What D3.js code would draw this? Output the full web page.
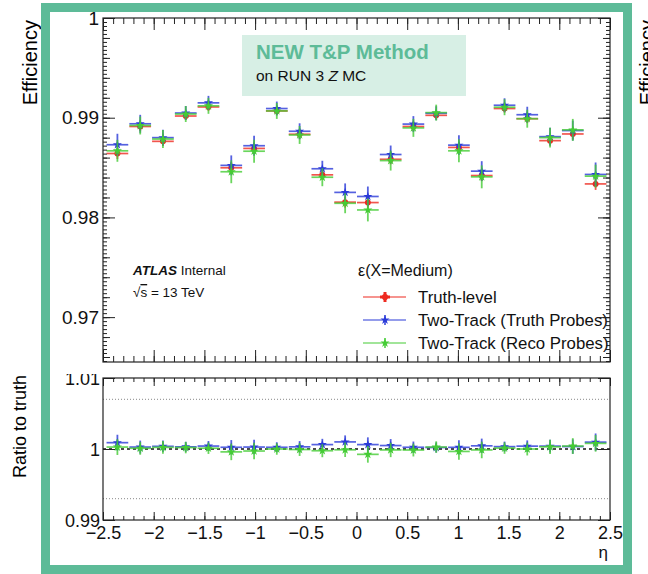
<!DOCTYPE html>
<html>
<head>
<meta charset="utf-8">
<script src="https://cdn.jsdelivr.net/npm/d3@7/dist/d3.min.js"></script>
<style>
  html, body { margin: 0; padding: 0; background: #fff; }
  svg { display: block; font-family: "Liberation Sans", Arial, Helvetica, sans-serif; }
</style>
</head>
<body>
<svg id="chart" width="648" height="574"></svg>
<script>
// Eta bin centres (22 equal bins across |eta| < 2.47) and half bin width
const etaCenters = [-2.358, -2.133, -1.909, -1.684, -1.460, -1.235, -1.010, -0.786, -0.561, -0.337, -0.112,
                     0.112,  0.337,  0.561,  0.786,  1.010,  1.235,  1.460,  1.684,  1.909,  2.133,  2.358];
const etaHalfWidth = 0.112;

// Medium-ID efficiency per eta bin
const truthLevel = [0.98641, 0.98912, 0.98763, 0.99017, 0.99108, 0.98498, 0.98692, 0.99068, 0.98834, 0.98427, 0.98153,
                    0.98149, 0.98583, 0.98912, 0.99024, 0.98702, 0.98420, 0.99092, 0.98990, 0.98770, 0.98837, 0.98336];
const truthErr   = [0.00055, 0.00045, 0.00045, 0.00040, 0.00040, 0.00055, 0.00055, 0.00040, 0.00045, 0.00050, 0.00055,
                    0.00055, 0.00050, 0.00045, 0.00040, 0.00055, 0.00055, 0.00040, 0.00045, 0.00045, 0.00055, 0.00060];

const twoTrackTruth = [0.98729, 0.98939, 0.98800, 0.99047, 0.99149, 0.98522, 0.98719, 0.99092, 0.98864, 0.98488, 0.98251,
                       0.98210, 0.98631, 0.98936, 0.99045, 0.98725, 0.98464, 0.99125, 0.99030, 0.98810, 0.98871, 0.98431];
const twoTrackTruthErr = [0.00110, 0.00090, 0.00080, 0.00070, 0.00070, 0.00100, 0.00100, 0.00070, 0.00080, 0.00080, 0.00090,
                          0.00100, 0.00090, 0.00080, 0.00070, 0.00100, 0.00100, 0.00070, 0.00080, 0.00090, 0.00100, 0.00120];

const twoTrackReco = [0.98668, 0.98922, 0.98786, 0.99037, 0.99119, 0.98458, 0.98664, 0.99068, 0.98827, 0.98403, 0.98142,
                      0.98075, 0.98570, 0.98898, 0.99051, 0.98668, 0.98407, 0.99105, 0.98990, 0.98800, 0.98878, 0.98414];
const twoTrackRecoErr = [0.00110, 0.00090, 0.00090, 0.00080, 0.00080, 0.00115, 0.00115, 0.00080, 0.00090, 0.00090, 0.00100,
                         0.00115, 0.00100, 0.00090, 0.00080, 0.00115, 0.00115, 0.00080, 0.00090, 0.00100, 0.00110, 0.00115];

// Axis ticks and labels
const xMajorTicks = [-2.5, -2, -1.5, -1, -0.5, 0, 0.5, 1, 1.5, 2, 2.5];
const xTickLabels = ["\u22122.5", "\u22122", "\u22121.5", "\u22121", "\u22120.5", "0", "0.5", "1", "1.5", "2", "2.5"];
const effMajorTicks = [0.97, 0.98, 0.99, 1.0];
const effTickLabels = ["0.97", "0.98", "0.99", "1"];
const ratioMajorTicks = [0.99, 1.0, 1.01];
const ratioTickLabels = ["0.99", "1", "1.01"];
const ratioBands = [0.993, 1.007];

const legendHeader = "\u03b5(X=Medium)";
const seriesNames = ["Truth-level", "Two-Track (Truth Probes)", "Two-Track (Reco Probes)"];
const seriesColors = ["#ee2a20", "#2a3ad8", "#45cc35"];

// ---- layout ----
const svg = d3.select("#chart");
const W = 648, H = 574;
const left = 103, right = 610;
const mainTop = 18, mainBottom = 362;
const ratTop = 378, ratBottom = 520;
const frameGreen = "#5dbb98";

const x = d3.scaleLinear().domain([-2.5, 2.5]).range([left, right]);
const y = d3.scaleLinear().domain([0.9655, 1.0]).range([mainBottom, mainTop]);
const yr = d3.scaleLinear().domain([0.99, 1.01]).range([ratBottom, ratTop]);

svg.append("rect").attr("width", W).attr("height", H).attr("fill", "#fff");

// Axis titles sitting outside the green frame
svg.append("text")
  .attr("transform", `translate(37,20) rotate(-90)`)
  .attr("text-anchor", "end").attr("font-size", 20).text("Efficiency");
svg.append("text")
  .attr("transform", `translate(26,375) rotate(-90)`)
  .attr("text-anchor", "end").attr("font-size", 18).text("Ratio to truth");
svg.append("text")
  .attr("transform", `translate(654,20) rotate(-90)`)
  .attr("text-anchor", "end").attr("font-size", 20).text("Efficiency");

// ---------- ratio pad ----------
const rat = svg.append("g");
svg.append("clipPath").attr("id", "ratclip")
  .append("rect").attr("x", 0).attr("y", 374).attr("width", W).attr("height", 200);

rat.selectAll("line.band").data(ratioBands).join("line")
  .attr("x1", left).attr("x2", right)
  .attr("y1", d => yr(d)).attr("y2", d => yr(d))
  .attr("stroke", "#888").attr("stroke-width", 1).attr("stroke-dasharray", "1,2");
rat.append("line")
  .attr("x1", left).attr("x2", right).attr("y1", yr(1)).attr("y2", yr(1))
  .attr("stroke", "#111").attr("stroke-width", 1.3).attr("stroke-dasharray", "3,3");

// ---------- generic error-bar series ----------
function drawSeries(g, vals, errs, ys, color, shape, size) {
  const pts = etaCenters.map((e, i) => ({ e, v: vals[i], err: errs[i] }));
  const s = g.append("g");
  s.selectAll("line.h").data(pts).join("line")
    .attr("x1", d => x(d.e - etaHalfWidth) + 0.5).attr("x2", d => x(d.e + etaHalfWidth) - 0.5)
    .attr("y1", d => ys(d.v)).attr("y2", d => ys(d.v))
    .attr("stroke", color).attr("stroke-width", 1.7).attr("stroke-opacity", 0.8);
  s.selectAll("line.v").data(pts).join("line")
    .attr("x1", d => x(d.e)).attr("x2", d => x(d.e))
    .attr("y1", d => ys(d.v - d.err)).attr("y2", d => ys(d.v + d.err))
    .attr("stroke", color).attr("stroke-width", 1.8).attr("stroke-opacity", 0.8);
  s.selectAll("path").data(pts).join("path")
    .attr("d", d3.symbol().type(shape).size(size))
    .attr("transform", d => `translate(${x(d.e)},${ys(d.v)})`)
    .attr("fill", color);
}

// ratios to the truth-level efficiency
const ratioTruthProbes = twoTrackTruth.map((v, i) => v / truthLevel[i]);
const ratioTruthProbesErr = twoTrackTruthErr.map((v, i) => v / truthLevel[i]);
const ratioRecoProbes = twoTrackReco.map((v, i) => v / truthLevel[i]);
const ratioRecoProbesErr = twoTrackRecoErr.map((v, i) => v / truthLevel[i]);

drawSeries(rat, ratioTruthProbes, ratioTruthProbesErr, yr, seriesColors[1], d3.symbolStar, 26);
drawSeries(rat, ratioRecoProbes, ratioRecoProbesErr, yr, seriesColors[2], d3.symbolStar, 26);

// ratio pad axes
function minorTicks(lo, hi, step) {
  return d3.range(Math.round(lo / step), Math.round(hi / step) + 1).map(k => +(k * step).toFixed(6));
}
const xMinor = minorTicks(-2.5, 2.5, 0.1);

function xAxes(g, yBottom, yTop, majorLen, minorLen, withLabels) {
  const b = g.append("g").attr("transform", `translate(0,${yBottom})`)
    .call(d3.axisBottom(x).tickValues(xMinor).tickSize(-minorLen).tickFormat(""));
  const bm = g.append("g").attr("transform", `translate(0,${yBottom})`)
    .call(d3.axisBottom(x).tickValues(xMajorTicks).tickSize(-majorLen).tickPadding(3)
      .tickFormat((d, i) => withLabels ? xTickLabels[i] : ""));
  const t = g.append("g").attr("transform", `translate(0,${yTop})`)
    .call(d3.axisTop(x).tickValues(xMinor).tickSize(-minorLen).tickFormat(""));
  const tm = g.append("g").attr("transform", `translate(0,${yTop})`)
    .call(d3.axisTop(x).tickValues(xMajorTicks).tickSize(-majorLen).tickFormat(""));
  [b, bm, t, tm].forEach(a => {
    a.select(".domain").remove();
    a.selectAll("line").attr("stroke", "#222");
    a.selectAll("text").attr("font-size", 18).attr("fill", "#111");
  });
  return bm;
}

const ratX = xAxes(rat, ratBottom, ratTop, 8, 4, true);
ratX.selectAll("text").attr("dy", "0.88em");

// left tick labels of the ratio pad; their top is hidden beneath the upper pad
const ratYWrap = rat.append("g").attr("clip-path", "url(#ratclip)");
const ratYL = ratYWrap.append("g").attr("transform", `translate(${left},0)`)
  .call(d3.axisLeft(yr).tickValues(ratioMajorTicks).tickSize(-12).tickPadding(3)
    .tickFormat((d, i) => ratioTickLabels[i]));
const ratYR = rat.append("g").attr("transform", `translate(${right},0)`)
  .call(d3.axisRight(yr).tickValues(ratioMajorTicks).tickSize(-12).tickFormat(""));
[ratYL, ratYR].forEach(a => {
  a.select(".domain").remove();
  a.selectAll("line").attr("stroke", "#222");
  a.selectAll("text").attr("font-size", 18).attr("fill", "#111").attr("dy", "0.36em");
});

rat.append("rect").attr("x", left).attr("y", ratTop)
  .attr("width", right - left).attr("height", ratBottom - ratTop)
  .attr("fill", "none").attr("stroke", "#222").attr("stroke-width", 1.2);

svg.append("text").attr("x", right - 2).attr("y", 558)
  .attr("text-anchor", "end").attr("font-size", 17).attr("fill", "#111").text("\u03b7");

// ---------- main pad ----------
const main = svg.append("g");

// title box
main.append("rect").attr("x", 242).attr("y", 35).attr("width", 224).attr("height", 61)
  .attr("fill", "#d7efe5");
main.append("text").attr("x", 256).attr("y", 59)
  .attr("font-size", 20.5).attr("font-weight", "bold").attr("fill", "#5dbb98")
  .text("NEW T&P Method");
const sub = main.append("text").attr("x", 256).attr("y", 81).attr("font-size", 15.5).attr("fill", "#111");
sub.append("tspan").text("on RUN 3 ");
sub.append("tspan").attr("font-style", "italic").text("Z");
sub.append("tspan").text(" MC");

// ATLAS label
const atl = main.append("text").attr("x", 133).attr("y", 275).attr("font-size", 13.5).attr("fill", "#111");
atl.append("tspan").attr("font-weight", "bold").attr("font-style", "italic").text("ATLAS");
atl.append("tspan").text(" Internal");
const rs = main.append("text").attr("x", 133).attr("y", 297).attr("font-size", 13.5).attr("fill", "#111");
rs.append("tspan").text("\u221a");
rs.append("tspan").attr("text-decoration", "overline").text("s");
rs.append("tspan").text(" = 13 TeV");

// legend
main.append("text").attr("x", 358).attr("y", 276).attr("font-size", 16).attr("fill", "#111").text(legendHeader);
const legRows = [297, 320, 343];
const legShapes = [d3.symbolCircle, d3.symbolStar, d3.symbolStar];
const legSizes = [30, 26, 26];
seriesNames.forEach((name, i) => {
  const gy = legRows[i];
  main.append("line").attr("x1", 363).attr("x2", 406).attr("y1", gy).attr("y2", gy)
    .attr("stroke", seriesColors[i]).attr("stroke-width", 1.2);
  main.append("line").attr("x1", 385).attr("x2", 385).attr("y1", gy - 5).attr("y2", gy + 5)
    .attr("stroke", seriesColors[i]).attr("stroke-width", i === 0 ? 3 : 1.5);
  if (i === 0) {
    main.append("line").attr("x1", 380).attr("x2", 390).attr("y1", gy).attr("y2", gy)
      .attr("stroke", seriesColors[i]).attr("stroke-width", 3);
  }
  main.append("path").attr("d", d3.symbol().type(legShapes[i]).size(legSizes[i])())
    .attr("transform", `translate(385,${gy})`).attr("fill", seriesColors[i]);
  main.append("text").attr("x", 418).attr("y", gy + 6).attr("font-size", 16.8).attr("fill", "#111").text(name);
});

// efficiency series
drawSeries(main, truthLevel, truthErr, y, seriesColors[0], d3.symbolCircle, 28);
drawSeries(main, twoTrackTruth, twoTrackTruthErr, y, seriesColors[1], d3.symbolStar, 26);
drawSeries(main, twoTrackReco, twoTrackRecoErr, y, seriesColors[2], d3.symbolStar, 26);

// main pad axes
xAxes(main, mainBottom, mainTop, 12, 6, false);

const yMinorSmall = minorTicks(0.9656, 1.0, 0.0004).filter(v => v >= 0.9655);
const yMinorMed = minorTicks(0.966, 1.0, 0.002);
function yAxes(ticks, len, labels) {
  const l = main.append("g").attr("transform", `translate(${left},0)`)
    .call(d3.axisLeft(y).tickValues(ticks).tickSize(-len).tickPadding(4)
      .tickFormat((d, i) => labels ? labels[i] : ""));
  const r = main.append("g").attr("transform", `translate(${right},0)`)
    .call(d3.axisRight(y).tickValues(ticks).tickSize(-len).tickFormat(""));
  [l, r].forEach(a => {
    a.select(".domain").remove();
    a.selectAll("line").attr("stroke", "#222");
    a.selectAll("text").attr("font-size", 19).attr("fill", "#111");
  });
}
yAxes(yMinorSmall, 4, null);
yAxes(yMinorMed, 7, null);
yAxes(effMajorTicks, 12, effTickLabels);

main.append("rect").attr("x", left).attr("y", mainTop)
  .attr("width", right - left).attr("height", mainBottom - mainTop)
  .attr("fill", "none").attr("stroke", "#222").attr("stroke-width", 1.2);

// green frame on top
svg.append("rect").attr("x", 45.5).attr("y", 7.5).attr("width", 582).attr("height", 562)
  .attr("fill", "none").attr("stroke", frameGreen).attr("stroke-width", 9);
</script>
</body>
</html>
